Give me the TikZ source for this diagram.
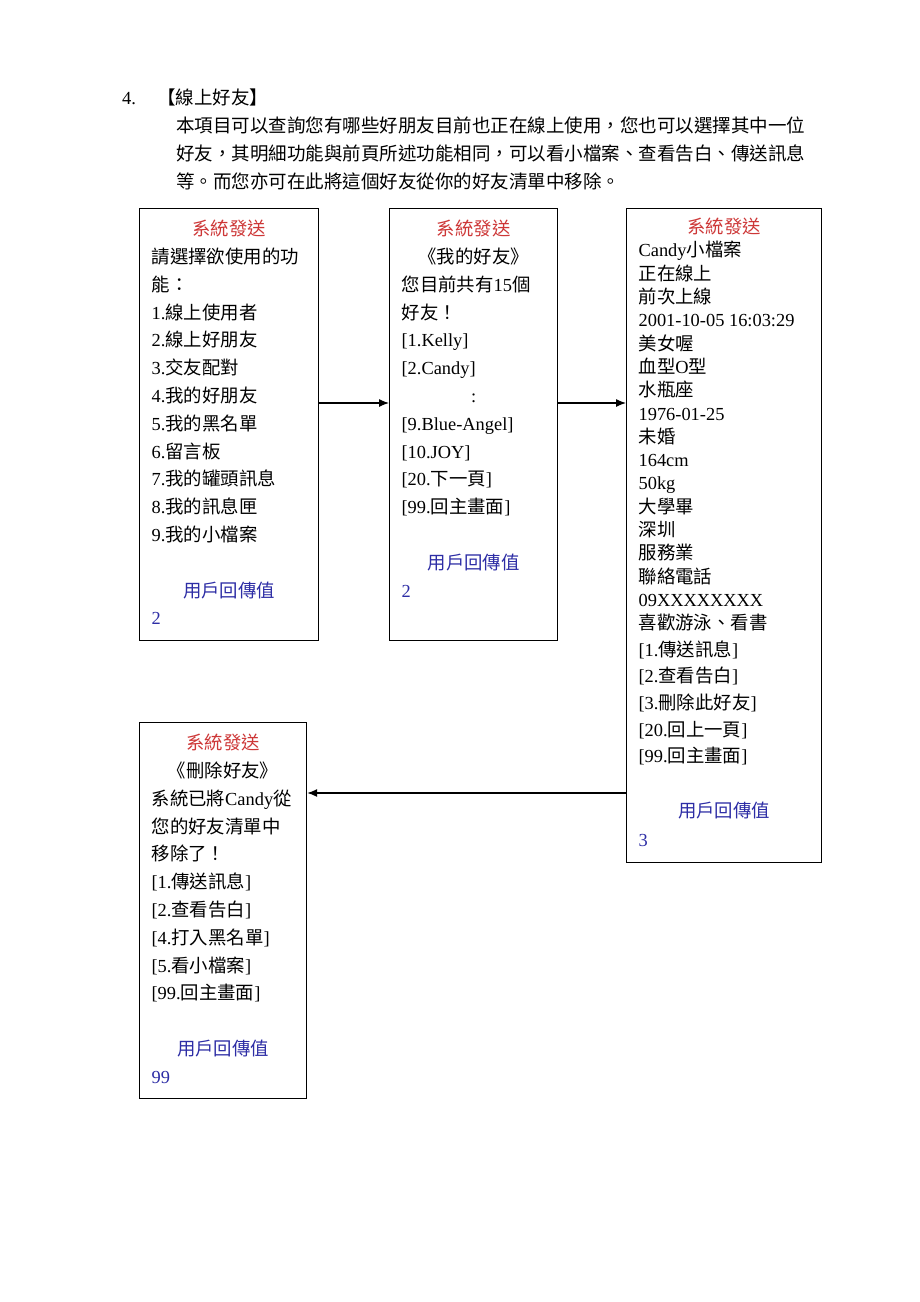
\documentclass[tikz,border=0pt]{standalone}
\usepackage{fontspec}
\setmainfont{Liberation Serif}
\newfontfamily\cjk{Noto Sans CJK TC}
\usetikzlibrary{arrows.meta}
\usepackage{xcolor}
\definecolor{sysred}{RGB}{205,55,55}
\definecolor{userblue}{RGB}{45,45,165}
% switch to the CJK font for Han characters and full-width punctuation
\XeTeXinterchartokenstate=1
\newXeTeXintercharclass\cjkclass
\newcommand\cjkrange[2]{\count255=#1 \loop\ifnum\count255<#2 \XeTeXcharclass\count255=\cjkclass \advance\count255 by 1 \repeat}
\cjkrange{"3000}{"3040}
\cjkrange{"4E00}{"A000}
\cjkrange{"FF00}{"FFF0}
\XeTeXinterchartoks 0 \cjkclass = {\cjk}
\XeTeXinterchartoks 4095 \cjkclass = {\cjk}
\XeTeXinterchartoks \cjkclass 0 = {\rmfamily}
\XeTeXinterchartoks \cjkclass 4095 = {\rmfamily}

\newcommand\screenfont[1][27.8]{\fontsize{18.4}{#1}\selectfont}
\newcommand\sysline[1][27pt]{\rule{0pt}{#1}\makebox[\linewidth]{\color{sysred}系統發送}}
\newcommand\userline{\makebox[\linewidth]{\color{userblue}用戶回傳值}}
\newcommand\midline[1]{\makebox[\linewidth]{#1}}

\tikzstyle{screen} = [draw, line width=1.2pt, anchor=north west, inner xsep=12pt, inner ysep=0pt]
\tikzstyle{para} = [anchor=base west, inner sep=0pt, align=left, font={\fontsize{18.5}{28}\selectfont}]
\tikzstyle{arrow} = [line width=1.2pt, -{Latex[length=10pt,width=8pt]}]

\begin{document}
\begin{tikzpicture}[x=1pt, y=-1pt]
\useasboundingbox (0,0) rectangle (920,1302);
%
% Heading
%
\node (num) [para] at (122,104) {4.};
\node (title) [para] at (157,104) {【線上好友】};
\node (intro) [para] at (176,188)
{本項目可以查詢您有哪些好朋友目前也正在線上使用，您也可以選擇其中一位\\
好友，其明細功能與前頁所述功能相同，可以看小檔案、查看告白、傳送訊息\\
等。而您亦可在此將這個好友從你的好友清單中移除。};
%
% Screens
%
\node (menu) [screen] at (139,208) {\parbox[t][432pt][t]{155pt}{\screenfont
\sysline\\ 請選擇欲使用的功\\ 能：\\ 1.線上使用者\\ 2.線上好朋友\\ 3.交友配對\\
4.我的好朋友\\ 5.我的黑名單\\ 6.留言板\\ 7.我的罐頭訊息\\ 8.我的訊息匣\\
9.我的小檔案\\[27.8pt] \userline\\ \textcolor{userblue}{2}}};
\node (friends) [screen] at (389,208) {\parbox[t][432pt][t]{144pt}{\screenfont
\sysline\\ \midline{《我的好友》}\\ 您目前共有15個\\ 好友！\\ {[}1.Kelly]\\
{[}2.Candy]\\ \midline{:}\\ {[}9.Blue-Angel]\\ {[}10.JOY]\\ {[}20.下一頁]\\
{[}99.回主畫面]\\[27.8pt] \userline\\ \textcolor{userblue}{2}}};
\node (profile) [screen] at (626,208) {\parbox[t][654pt][t]{171pt}{\screenfont[23.3]
\sysline[25pt]\\ Candy小檔案\\ 正在線上\\ 前次上線\\ 2001-10-05 16:03:29\\ 美女喔\\
血型O型\\ 水瓶座\\ 1976-01-25\\ 未婚\\ 164cm\\ 50kg\\ 大學畢\\ 深圳\\ 服務業\\
聯絡電話\\ 09XXXXXXXX\\ 喜歡游泳、看書\\[3.3pt] {[}1.傳送訊息]\\[3.3pt]
{[}2.查看告白]\\[3.3pt] {[}3.刪除此好友]\\[3.3pt] {[}20.回上一頁]\\[3.3pt]
{[}99.回主畫面]\\[31.7pt] \userline\\[5.2pt] \textcolor{userblue}{3}}};
\node (removed) [screen] at (139,722) {\parbox[t][376pt][t]{143pt}{\screenfont
\sysline\\ \midline{《刪除好友》}\\ 系統已將Candy從\\ 您的好友清單中\\ 移除了！\\
{[}1.傳送訊息]\\ {[}2.查看告白]\\ {[}4.打入黑名單]\\ {[}5.看小檔案]\\
{[}99.回主畫面]\\[27.8pt] \userline\\ \textcolor{userblue}{99}}};
%
% Connect screens
%
\coordinate (upper) at (0,403);
\coordinate (lower) at (0,793);
\draw [arrow] (menu.east |- upper) -- (friends.west |- upper);
\draw [arrow] (friends.east |- upper) -- (profile.west |- upper);
\draw [arrow] (profile.west |- lower) -- (removed.east |- lower);
\end{tikzpicture}
\end{document}
